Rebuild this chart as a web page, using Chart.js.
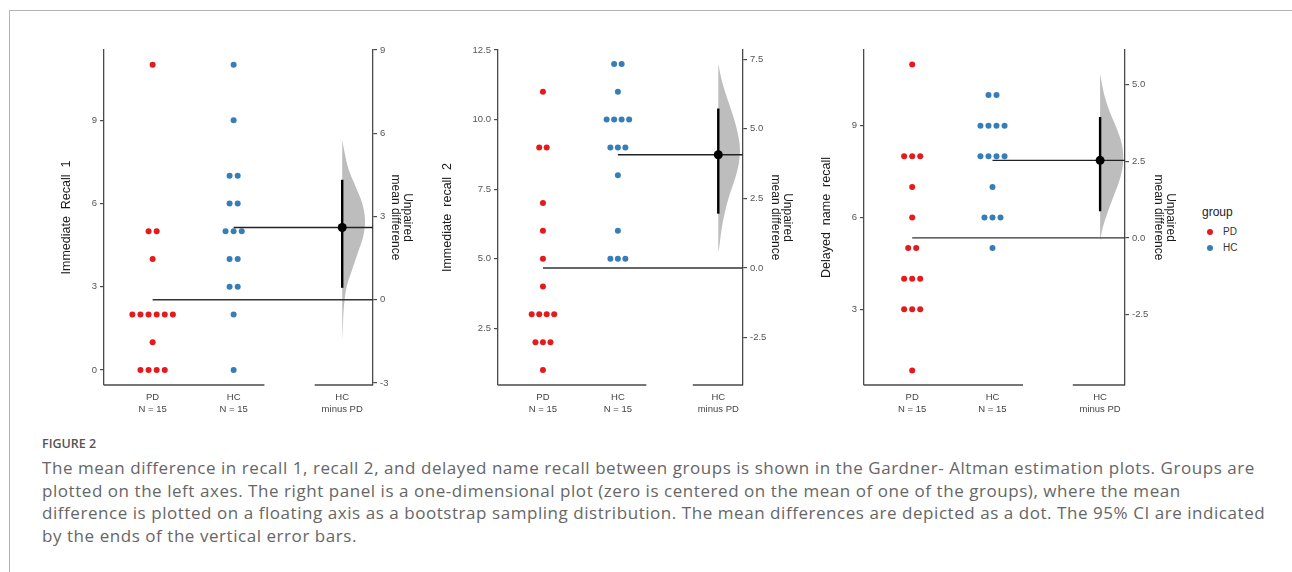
<!DOCTYPE html>
<html>
<head>
<meta charset="utf-8">
<script src="https://cdn.jsdelivr.net/npm/chart.js@4"></script>
<style>
	body { margin: 0; width: 1292px; height: 572px; background: #fff; position: relative; overflow: hidden; font-family: "Liberation Sans", Arial, sans-serif; }
	#frame { position: absolute; left: 9px; top: 10px; right: -2px; bottom: -2px; border-top: 1px solid #b4b4b4; border-left: 1px solid #b4b4b4; }
	.panel { position: absolute; top: 0; height: 430px; }
	#legend { position: absolute; left: 1202px; top: 205px; color: #222; }
	#legend .title { font-size: 12px; margin-bottom: 5px; }
	#legend .row { position: relative; height: 16px; font-size: 10px; line-height: 16px; padding-left: 21px; color: #333; }
	#legend .dot { position: absolute; left: 5px; top: 5px; width: 6px; height: 6px; border-radius: 50%; }
	#caption { position: absolute; left: 42px; top: 435px; white-space: nowrap; font-family: "Open Sans", sans-serif; color: #666; }
	#caption .fig { font-size: 12.5px; font-weight: 600; color: #555; height: 22px; }
	#caption .text { font-size: 17px; letter-spacing: 0.55px; line-height: 22.6px; }
</style>
</head>
<body>
<div id="frame"></div>
<canvas id="recall1" class="panel"></canvas>
<canvas id="recall2" class="panel"></canvas>
<canvas id="delayed" class="panel"></canvas>
<div id="legend"></div>
<div id="caption">
	<div class="fig">FIGURE 2</div>
	<div class="text">The mean difference in recall 1, recall 2, and delayed name recall between groups is shown in the Gardner- Altman estimation plots. Groups are<br>plotted on the left axes. The right panel is a one-dimensional plot (zero is centered on the mean of one of the groups), where the mean<br>difference is plotted on a floating axis as a bootstrap sampling distribution. The mean differences are depicted as a dot. The 95% CI are indicated<br>by the ends of the vertical error bars.</div>
</div>
<script>
	// groups and their colours
	var groups = ["PD", "HC"];
	var groupColors = ["#e41a1c", "#377eb8"];
	var xLabels = [["PD", "N = 15"], ["HC", "N = 15"], ["HC", "minus PD"]];

	// Immediate Recall 1
	var recall1PD = [11, 5, 5, 4, 2, 2, 2, 2, 2, 2, 1, 0, 0, 0, 0];
	var recall1HC = [11, 9, 7, 7, 6, 6, 5, 5, 5, 4, 4, 3, 3, 2, 0];
	var recall1CI = [0.43, 4.32];
	var recall1ViolinY = [-1.5, -0.7, -0.1, 0.5, 1.1, 1.7, 2.3, 2.9, 3.5, 4.1, 4.7, 5.3, 5.75];
	var recall1ViolinDensity = [0, 0.04, 0.09, 0.2, 0.43, 0.67, 0.9, 0.97, 0.84, 0.56, 0.27, 0.1, 0];
	var recall1LeftTicks = ["0", "3", "6", "9"];
	var recall1RightTicks = ["-3", "0", "3", "6", "9"];

	// Immediate recall 2
	var recall2PD = [11, 9, 9, 7, 6, 5, 4, 3, 3, 3, 3, 2, 2, 2, 1];
	var recall2HC = [12, 12, 11, 10, 10, 10, 10, 9, 9, 9, 8, 6, 5, 5, 5];
	var recall2CI = [1.95, 5.73];
	var recall2ViolinY = [0.56, 0.78, 1.38, 1.98, 2.58, 3.18, 3.78, 4.37, 4.97, 5.57, 6.17, 6.77, 7.34];
	var recall2ViolinDensity = [0, 0.05, 0.15, 0.3, 0.5, 0.76, 0.95, 0.99, 0.86, 0.64, 0.38, 0.15, 0];
	var recall2LeftTicks = ["2.5", "5.0", "7.5", "10.0", "12.5"];
	var recall2RightTicks = ["-2.5", "0.0", "2.5", "5.0", "7.5"];

	// Delayed name recall
	var delayedPD = [11, 8, 8, 8, 7, 6, 5, 5, 4, 4, 4, 3, 3, 3, 1];
	var delayedHC = [10, 10, 9, 9, 9, 9, 8, 8, 8, 8, 7, 6, 6, 6, 5];
	var delayedCI = [0.87, 3.95];
	var delayedViolinY = [-0.11, 0.3, 0.85, 1.4, 1.95, 2.49, 3.04, 3.58, 4.13, 4.67, 5.22, 5.38];
	var delayedViolinDensity = [0, 0.1, 0.33, 0.6, 0.86, 0.99, 0.94, 0.71, 0.41, 0.18, 0.03, 0];
	var delayedLeftTicks = ["3", "6", "9"];
	var delayedRightTicks = ["-2.5", "0.0", "2.5", "5.0"];

	var SWARM_STEP = 0.1;
	var VIOLIN_WIDTH = 0.29;
	var DIFF_X = 2.34;
	var AXIS_BREAK = [1.38, 2.0];
	var AXIS_COLOR = "#4a4a4a";

	function mean(values)
	{
		var s = 0;
		for (var i = 0; i < values.length; i++)
			s += values[i];
		return s / values.length;
	}

	// equal values are laid side by side around the group centre
	function swarm(values, centre)
	{
		var counts = {}, seen = {}, points = [];
		values.forEach(function(v) { counts[v] = (counts[v] || 0) + 1; });
		values.forEach(function(v)
		{
			var k = seen[v] || 0;
			seen[v] = k + 1;
			points.push({x: centre + (k - (counts[v] - 1) / 2) * SWARM_STEP, y: v});
		});
		return points;
	}

	function violin(ys, density)
	{
		return ys.map(function(y, i) { return {x: DIFF_X + density[i] * VIOLIN_WIDTH, y: y}; });
	}

	var brokenAxis =
	{
		id: 'brokenAxis',
		afterDraw: function(chart)
		{
			var ctx = chart.ctx, xs = chart.scales.x, y = chart.chartArea.bottom;
			ctx.save();
			ctx.strokeStyle = AXIS_COLOR;
			ctx.lineWidth = 1.3;
			ctx.beginPath();
			ctx.moveTo(chart.chartArea.left, y);
			ctx.lineTo(xs.getPixelForValue(AXIS_BREAK[0]), y);
			ctx.moveTo(xs.getPixelForValue(AXIS_BREAK[1]), y);
			ctx.lineTo(chart.chartArea.right, y);
			ctx.stroke();
			ctx.restore();
		}
	};

	function makePanel(p)
	{
		var canvas = document.getElementById(p.id);
		var width = p.right - p.left + p.leftWidth + p.rightWidth;
		canvas.style.left = (p.left - p.leftWidth) + "px";
		canvas.style.width = width + "px";
		canvas.width = width;
		canvas.height = 430;

		var pdMean = mean(p.pd), hcMean = mean(p.hc);
		var diff = hcMean - pdMean;
		var xPositions = [0, 1, DIFF_X];
		var tickFont = {size: 9.5};

		var chartConfig =
		{
			type: 'line',
			data:
			{
				datasets: [
					{ data: [{x: DIFF_X, y: diff}], yAxisID: 'y2', showLine: false, pointRadius: 4.5, pointBackgroundColor: '#000', pointBorderWidth: 0 },
					{ data: [{x: DIFF_X, y: p.ci[0]}, {x: DIFF_X, y: p.ci[1]}], yAxisID: 'y2', borderColor: '#000', borderWidth: 2.4, pointRadius: 0 },
					{ data: [{x: 1, y: hcMean}, {x: p.xMax, y: hcMean}], yAxisID: 'y', borderColor: '#222', borderWidth: 1.4, pointRadius: 0 },
					{ data: [{x: 0, y: pdMean}, {x: p.xMax, y: pdMean}], yAxisID: 'y', borderColor: '#333', borderWidth: 1.4, pointRadius: 0 },
					{ data: violin(p.violinY, p.violinDensity), yAxisID: 'y2', fill: 'shape', backgroundColor: '#bdbdbd', borderWidth: 0, pointRadius: 0, tension: 0.35 },
					{ data: swarm(p.hc, 1), yAxisID: 'y', showLine: false, pointRadius: 3, pointBackgroundColor: groupColors[1], pointBorderWidth: 0 },
					{ data: swarm(p.pd, 0), yAxisID: 'y', showLine: false, pointRadius: 3, pointBackgroundColor: groupColors[0], pointBorderWidth: 0 }
				]
			},
			options:
			{
				responsive: false,
				animation: false,
				layout: { padding: { top: 50, bottom: 0, left: 0, right: 0 } },
				plugins: { legend: { display: false }, tooltip: { enabled: false } },
				scales:
				{
					x:
					{
						type: 'linear', min: -0.6, max: p.xMax,
						afterBuildTicks: function(s) { s.ticks = xPositions.map(function(v) { return {value: v}; }); },
						afterFit: function(s) { s.height = 45; },
						ticks: { callback: function(v, i) { return xLabels[i]; }, color: '#444', font: tickFont, padding: 7, autoSkip: false, maxRotation: 0 },
						grid: { display: false, drawTicks: false },
						border: { display: false }
					},
					y:
					{
						position: 'left', min: p.yMin, max: p.yMax,
						afterBuildTicks: function(s) { s.ticks = p.leftTicks.map(function(t) { return {value: Number(t)}; }); },
						afterFit: function(s) { s.width = p.leftWidth; },
						ticks: { callback: function(v, i) { return p.leftTicks[i]; }, color: '#555', font: tickFont, padding: 3 },
						grid: { drawOnChartArea: false, tickLength: 4, color: AXIS_COLOR, lineWidth: 1.2 },
						border: { color: AXIS_COLOR, width: 1.3 },
						title: { display: true, text: p.title, color: '#1a1a1a', font: {size: 12.5, lineHeight: 1.1}, padding: 0 }
					},
					y2:
					{
						position: 'right', min: p.yMin - pdMean, max: p.yMax - pdMean,
						afterBuildTicks: function(s) { s.ticks = p.rightTicks.map(function(t) { return {value: Number(t)}; }); },
						afterFit: function(s) { s.width = p.rightWidth; },
						ticks: { callback: function(v, i) { return p.rightTicks[i]; }, color: '#555', font: tickFont, padding: 3 },
						grid: { drawOnChartArea: false, tickLength: 4, color: AXIS_COLOR, lineWidth: 1.2 },
						border: { color: AXIS_COLOR, width: 1.3 },
						title: { display: true, text: ["Unpaired", "mean difference"], color: '#1a1a1a', font: {size: 12, lineHeight: 1.05}, padding: 0 }
					}
				}
			},
			plugins: [brokenAxis]
		};
		return new Chart(canvas.getContext('2d'), chartConfig);
	}

	window.onload = () =>
	{
		makePanel({ id: 'recall1', title: "Immediate  Recall  1", pd: recall1PD, hc: recall1HC, ci: recall1CI,
			violinY: recall1ViolinY, violinDensity: recall1ViolinDensity, leftTicks: recall1LeftTicks, rightTicks: recall1RightTicks,
			left: 104, right: 373, leftWidth: 44, rightWidth: 41, xMax: 2.72, yMin: -0.54, yMax: 11.53 });
		makePanel({ id: 'recall2', title: "Immediate  recall  2", pd: recall2PD, hc: recall2HC, ci: recall2CI,
			violinY: recall2ViolinY, violinDensity: recall2ViolinDensity, leftTicks: recall2LeftTicks, rightTicks: recall2RightTicks,
			left: 498, right: 743, leftWidth: 57, rightWidth: 51, xMax: 2.67, yMin: 0.46, yMax: 12.5 });
		makePanel({ id: 'delayed', title: "Delayed  name  recall", pd: delayedPD, hc: delayedHC, ci: delayedCI,
			violinY: delayedViolinY, violinDensity: delayedViolinDensity, leftTicks: delayedLeftTicks, rightTicks: delayedRightTicks,
			left: 864, right: 1125, leftWidth: 44, rightWidth: 52, xMax: 2.65, yMin: 0.53, yMax: 11.47 });

		var legend = document.getElementById('legend');
		var html = '<div class="title">group</div>';
		for (var i = 0; i < groups.length; i++)
			html += '<div class="row"><span class="dot" style="background:' + groupColors[i] + '"></span>' + groups[i] + '</div>';
		legend.innerHTML = html;
	}
</script>
</body>
</html>
